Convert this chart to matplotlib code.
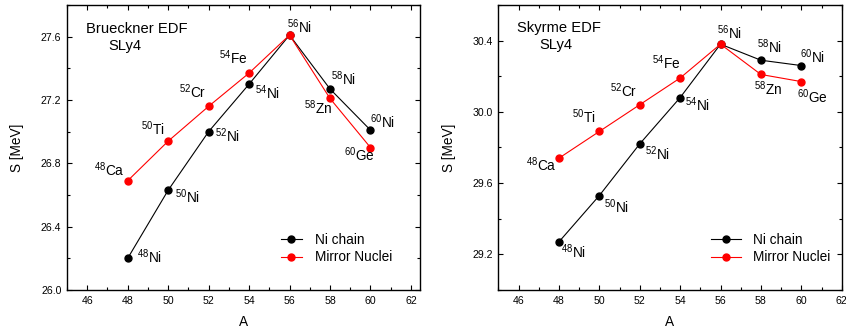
import matplotlib
matplotlib.use("Agg")
import matplotlib.pyplot as plt
from matplotlib.ticker import MultipleLocator

plt.rcParams['font.family'] = ['Liberation Sans', 'DejaVu Sans']
plt.rcParams['mathtext.fontset'] = 'custom'
plt.rcParams['mathtext.rm'] = 'Liberation Sans'
plt.rcParams['mathtext.it'] = 'Liberation Sans:italic'

A = [48, 50, 52, 54, 56, 58, 60]

# Brueckner EDF panel
ni_brueckner = [26.20, 26.63, 27.00, 27.30, 27.61, 27.27, 27.01]
mirror_brueckner = [26.69, 26.94, 27.16, 27.37, 27.61, 27.21, 26.90]

# Skyrme EDF panel
ni_skyrme = [29.27, 29.53, 29.82, 30.08, 30.38, 30.29, 30.26]
mirror_skyrme = [29.74, 29.89, 30.04, 30.19, 30.38, 30.21, 30.17]

ni_names = ['48', '50', '52', '54', '56', '58', '60']
ni_elems = ['Ni'] * 7
mirror_names = ['48', '50', '52', '54', None, '58', '60']
mirror_elems = ['Ca', 'Ti', 'Cr', 'Fe', None, 'Zn', 'Ge']

# label offsets in pixels (dx, dy, ha)
ni_off_left = [(9, -5, 'left'), (7, -13, 'left'), (6, -10, 'left'), (6, -15, 'left'),
               (-3, 2, 'left'), (1, 4, 'left'), (0, 2, 'left')]
mir_off_left = [(-3, 5, 'right'), (-4, 6, 'right'), (-2, 8, 'right'), (-2, 9, 'right'),
                None, (2, -16, 'right'), (4, -14, 'right')]
ni_off_right = [(2, -16, 'left'), (5, -17, 'left'), (5, -16, 'left'), (5, -13, 'left'),
                (-4, 5, 'left'), (-4, 7, 'left'), (-1, 3, 'left')]
mir_off_right = [(-2, -13, 'right'), (-4, 8, 'right'), (-2, 8, 'right'), (0, 9, 'right'),
                 None, (-7, -21, 'left'), (-4, -21, 'left')]

fig = plt.figure(figsize=(8.46, 3.36), dpi=100)
ax1 = fig.add_axes([67 / 846, 46 / 336, 353 / 846, 285 / 336])
ax2 = fig.add_axes([498.3 / 846, 46 / 336, 343.4 / 846, 285 / 336])


def draw_panel(ax, ni, mirror, ni_off, mir_off, title, legend_anchor, handlelength):
    ax.plot(A, ni, color='black', lw=0.8, marker='o', ms=5, label='Ni chain')
    ax.plot(A, mirror, color='#ff0000', lw=0.8, marker='o', ms=5, label='Mirror Nuclei')
    for x, y, n, e, off in zip(A, ni, ni_names, ni_elems, ni_off):
        ax.annotate(r'$^{%s}$%s' % (n, e), (x, y), xytext=off[:2], textcoords='offset pixels',
                    ha=off[2], va='baseline', fontsize=9.8)
    for x, y, n, e, off in zip(A, mirror, mirror_names, mirror_elems, mir_off):
        if off is None:
            continue
        ax.annotate(r'$^{%s}$%s' % (n, e), (x, y), xytext=off[:2], textcoords='offset pixels',
                    ha=off[2], va='baseline', fontsize=9.8)
    ax.text(title[1], title[2], title[0], transform=ax.transAxes, ha='center',
            va='baseline', fontsize=10.6)
    ax.text(title[3], title[4], 'SLy4', transform=ax.transAxes, ha='center',
            va='baseline', fontsize=10.6)
    ax.set_xlabel('A', fontsize=9.8, labelpad=7)
    ax.set_ylabel('S [MeV]', fontsize=9.8, labelpad=12)
    ax.xaxis.set_major_locator(MultipleLocator(2))
    ax.xaxis.set_minor_locator(MultipleLocator(1))
    ax.yaxis.set_major_locator(MultipleLocator(0.4))
    ax.yaxis.set_minor_locator(MultipleLocator(0.2))
    ax.tick_params(which='both', direction='in', top=True, right=True, labelsize=7.6, width=0.8)
    ax.tick_params(which='major', length=3.5, pad=4)
    ax.tick_params(which='minor', length=2)
    for s in ax.spines.values():
        s.set_linewidth(1.0)
    ax.legend(loc='lower left', bbox_to_anchor=legend_anchor, frameon=False, fontsize=9.8,
              borderpad=0, borderaxespad=0, handlelength=handlelength, handletextpad=0.9,
              labelspacing=0.25)


draw_panel(ax1, ni_brueckner, mirror_brueckner, ni_off_left, mir_off_left,
           ('Brueckner EDF', 0.197, 0.902, 0.165, 0.842), (0.605, 0.09), 1.6)
ax1.set_xlim(45, 62.45)
ax1.set_ylim(26.0, 27.8)
ax1.yaxis.set_major_formatter(matplotlib.ticker.FormatStrFormatter('%.1f'))

draw_panel(ax2, ni_skyrme, mirror_skyrme, ni_off_right, mir_off_right,
           ('Skyrme EDF', 0.177, 0.907, 0.169, 0.847), (0.62, 0.09), 2.2)
ax2.set_xlim(45, 62)
ax2.set_ylim(29.0, 30.6)
ax2.yaxis.set_major_formatter(matplotlib.ticker.FormatStrFormatter('%.1f'))

fig.savefig('out.png', dpi=100)
